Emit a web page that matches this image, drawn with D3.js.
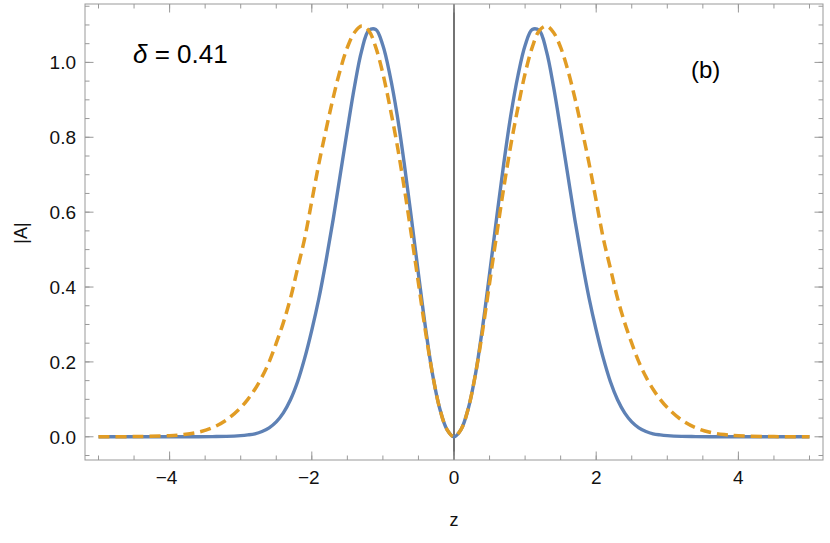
<!DOCTYPE html>
<html>
<head>
<meta charset="utf-8">
<script src="https://cdn.jsdelivr.net/npm/d3@7"></script>
<style>
  body { margin: 0; background: #fff; }
  text { font-family: "Liberation Sans", Arial, sans-serif; }
</style>
</head>
<body>
<div class="svg-container"></div>
<script>
var width = 830;
var height = 543;

// plot frame (pixels)
var frame = { "left": 85, "right": 823, "top": 4, "bottom": 460 };

// data
var zValues = [-5.0, -4.5, -4.0, -3.8, -3.6, -3.4, -3.2, -3.0, -2.9, -2.8, -2.7, -2.6, -2.5, -2.4, -2.3, -2.2, -2.1, -2.0,
               -1.9, -1.8, -1.7, -1.6, -1.5, -1.4, -1.3, -1.2, -1.1, -1.0, -0.9, -0.8, -0.7, -0.6, -0.5, -0.4, -0.3, -0.2, -0.1,
               0.0,
               0.1, 0.2, 0.3, 0.4, 0.5, 0.6, 0.7, 0.8, 0.9, 1.0, 1.1, 1.2, 1.3, 1.4, 1.5, 1.6, 1.7, 1.8, 1.9,
               2.0, 2.1, 2.2, 2.3, 2.4, 2.5, 2.6, 2.7, 2.8, 2.9, 3.0, 3.2, 3.4, 3.6, 3.8, 4.0, 4.5, 5.0];

var solidA = [0, 0, 0, 0.0001, 0.0002, 0.0005, 0.001, 0.003, 0.005, 0.008, 0.014, 0.024, 0.04, 0.064, 0.099, 0.147, 0.21, 0.285,
              0.37, 0.47, 0.58, 0.70, 0.82, 0.935, 1.03, 1.085, 1.088, 1.045, 0.965, 0.86, 0.73, 0.585, 0.435, 0.29, 0.165, 0.075, 0.02,
              0,
              0.02, 0.075, 0.165, 0.29, 0.435, 0.585, 0.73, 0.86, 0.965, 1.045, 1.088, 1.085, 1.03, 0.935, 0.82, 0.70, 0.58, 0.47, 0.37,
              0.285, 0.21, 0.147, 0.099, 0.064, 0.04, 0.024, 0.014, 0.008, 0.005, 0.003, 0.001, 0.0005, 0.0002, 0.0001, 0, 0, 0];

var dashedA = [0, 0.0005, 0.003, 0.006, 0.012, 0.024, 0.045, 0.078, 0.1, 0.127, 0.16, 0.2, 0.25, 0.305, 0.37, 0.45, 0.53, 0.63,
               0.73, 0.82, 0.905, 0.98, 1.04, 1.08, 1.097, 1.085, 1.04, 0.97, 0.88, 0.78, 0.665, 0.54, 0.41, 0.28, 0.165, 0.075, 0.02,
               0,
               0.02, 0.075, 0.165, 0.28, 0.41, 0.54, 0.665, 0.78, 0.88, 0.97, 1.04, 1.085, 1.097, 1.08, 1.04, 0.98, 0.905, 0.82, 0.73,
               0.63, 0.53, 0.45, 0.37, 0.305, 0.25, 0.2, 0.16, 0.127, 0.1, 0.078, 0.045, 0.024, 0.012, 0.006, 0.003, 0.0005, 0];

var xMajorTicks = [-4, -2, 0, 2, 4];
var xMinorTicks = d3.range(-5, 5.01, 0.5);
var yMajorTicks = [0.0, 0.2, 0.4, 0.6, 0.8, 1.0];
var yMinorTicks = d3.range(-0.05, 1.16, 0.05);

var deltaLabel = "0.41";
var panelLabel = "(b)";

var svg = d3.select(".svg-container").append("svg")
            .attr("width", width)
            .attr("height", height);

var scaleX = d3.scaleLinear()
               .domain([-5.19, 5.19])
               .range([frame.left, frame.right]);

var scaleY = d3.scaleLinear()
               .domain([-0.062, 1.156])
               .range([frame.bottom, frame.top]);

var fmtX = function(d) { return d < 0 ? "\u2212" + Math.abs(d) : "" + d; };
var fmtY = d3.format(".1f");

// clip so the curves stay inside the frame
svg.append("clipPath")
   .attr("id", "plot-clip")
   .append("rect")
   .attr("x", frame.left)
   .attr("y", frame.top)
   .attr("width", frame.right - frame.left)
   .attr("height", frame.bottom - frame.top);

// vertical line at z = 0
svg.append("line")
   .attr("x1", scaleX(0)).attr("x2", scaleX(0))
   .attr("y1", frame.top).attr("y2", frame.bottom)
   .attr("stroke", "#000")
   .attr("stroke-width", 1.1);

// curves
var line = d3.line()
             .x(function(d) { return scaleX(d[0]); })
             .y(function(d) { return scaleY(d[1]); })
             .curve(d3.curveCatmullRom.alpha(0.5));

var plot = svg.append("g").attr("clip-path", "url(#plot-clip)");

plot.append("path")
    .datum(d3.zip(zValues, solidA))
    .attr("fill", "none")
    .attr("stroke", "#5E81B5")
    .attr("stroke-width", 3.4)
    .attr("d", line);

plot.append("path")
    .datum(d3.zip(zValues, dashedA))
    .attr("fill", "none")
    .attr("stroke", "#E19C24")
    .attr("stroke-width", 3.5)
    .style("stroke-dasharray", "11,6")
    .attr("d", line);

// frame with inward ticks on all sides
var axes = svg.append("g").attr("class", "frame");
var frameColor = "#999";

axes.append("rect")
    .attr("x", frame.left)
    .attr("y", frame.top)
    .attr("width", frame.right - frame.left)
    .attr("height", frame.bottom - frame.top)
    .attr("fill", "none")
    .attr("stroke", frameColor)
    .attr("stroke-width", 1);

function xTicks(list, len) {
  list.forEach(function(v) {
    var x = scaleX(v);
    axes.append("line").attr("x1", x).attr("x2", x)
        .attr("y1", frame.bottom).attr("y2", frame.bottom - len)
        .attr("stroke", frameColor);
    axes.append("line").attr("x1", x).attr("x2", x)
        .attr("y1", frame.top).attr("y2", frame.top + len)
        .attr("stroke", frameColor);
  });
}

function yTicks(list, len) {
  list.forEach(function(v) {
    var y = scaleY(v);
    axes.append("line").attr("x1", frame.left).attr("x2", frame.left + len)
        .attr("y1", y).attr("y2", y)
        .attr("stroke", frameColor);
    axes.append("line").attr("x1", frame.right).attr("x2", frame.right - len)
        .attr("y1", y).attr("y2", y)
        .attr("stroke", frameColor);
  });
}

xTicks(xMinorTicks, 4.5);
xTicks(xMajorTicks, 8.5);
yTicks(yMinorTicks, 4.5);
yTicks(yMajorTicks, 8.5);

// tick labels
svg.append("g").selectAll("text")
   .data(xMajorTicks)
   .enter()
   .append("text")
     .attr("x", function(d) { return scaleX(d) - (d < 0 ? 3 : 0); })
     .attr("y", 484)
     .attr("text-anchor", "middle")
     .attr("font-size", 19)
     .attr("fill", "#111")
     .text(fmtX);

svg.append("g").selectAll("text")
   .data(yMajorTicks)
   .enter()
   .append("text")
     .attr("x", 76)
     .attr("y", function(d) { return scaleY(d) + 7; })
     .attr("text-anchor", "end")
     .attr("font-size", 19)
     .attr("fill", "#111")
     .text(fmtY);

// axis titles
svg.append("text")
   .attr("x", scaleX(0))
   .attr("y", 526)
   .attr("text-anchor", "middle")
   .attr("font-size", 18)
   .attr("fill", "#111")
   .text("z");

svg.append("text")
   .attr("transform", "translate(27,233) rotate(-90)")
   .attr("text-anchor", "middle")
   .attr("font-size", 18)
   .attr("fill", "#111")
   .text("|A|");

// annotations
var ann = svg.append("text")
             .attr("x", 133)
             .attr("y", 63)
             .attr("font-size", 26)
             .attr("fill", "#000");
ann.append("tspan").attr("font-style", "italic").text("\u03B4");
ann.append("tspan").text(" = " + deltaLabel);

svg.append("text")
   .attr("x", 691)
   .attr("y", 78)
   .attr("font-size", 24)
   .attr("fill", "#000")
   .text(panelLabel);
</script>
</body>
</html>
